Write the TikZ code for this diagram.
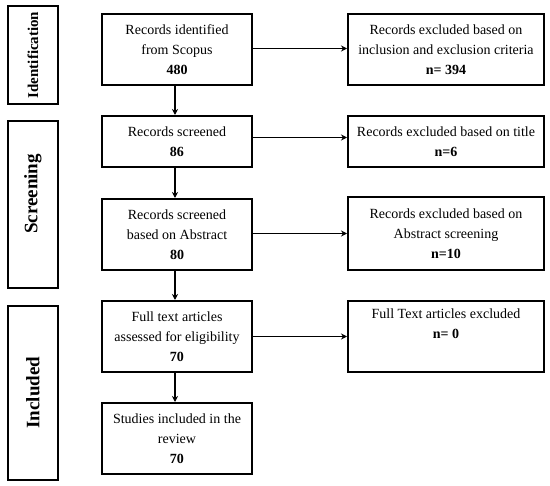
\documentclass[tikz,border=0pt]{standalone}
\usepackage{fontspec}
\setmainfont{Liberation Serif}
\usetikzlibrary{arrows.meta}
\begin{document}
\begin{tikzpicture}[x=1pt,y=-1pt,
  box/.style={draw,line width=2pt,inner sep=0pt,align=center,
    font=\fontsize{14}{20}\selectfont},
  side/.style={draw,line width=2pt,inner sep=0pt,minimum width=50pt},
  sidetext/.style={rotate=90,font=\fontsize{#1}{20}\selectfont\bfseries},
  arr/.style={line width=1.6pt,-{Stealth[length=6pt,width=6pt]}}]
\useasboundingbox (0,0) rectangle (550,486);
% phase boxes
\node[side,minimum height=98pt] (s1) at (33,55) {};
\node[sidetext=15] (t1) at (33,55) {Identification};
\node[side,minimum height=167pt] (s2) at (33,204.5) {};
\node[sidetext=19] (t2) at (33,194) {Screening};
\node[side,minimum height=174pt] (s3) at (33,393) {};
\node[sidetext=19] (t3) at (33,392.5) {Included};
% main column
\node[box,minimum width=150pt,minimum height=71pt] (b1) at (177,49.5)
  {Records identified\\from Scopus\\\textbf{480}};
\node[box,minimum width=150pt,minimum height=51pt] (b2) at (177,141.5)
  {Records screened\\\textbf{86}};
\node[box,minimum width=150pt,minimum height=71pt] (b3) at (177,234.5)
  {Records screened\\based on Abstract\\\textbf{80}};
\node[box,minimum width=150pt,minimum height=71pt] (b4) at (177,336.5)
  {Full text articles\\assessed for eligibility\\\textbf{70}};
\node[box,minimum width=150pt,minimum height=71pt] (b5) at (177,438.5)
  {Studies included in the\\review\\\textbf{70}};
% right column
\node[box,minimum width=196pt,minimum height=71pt] (r1) at (446,49.5)
  {Records excluded based on\\inclusion and exclusion criteria\\\textbf{n= 394}};
\node[box,minimum width=196pt,minimum height=51pt] (r2) at (446,141.5)
  {Records excluded based on title\\\textbf{n=6}};
\node[box,minimum width=196pt,minimum height=73pt] (r3) at (446,234)
  {Records excluded based on\\Abstract screening\\\textbf{n=10}};
\node[box,minimum width=196pt,minimum height=71pt] (r4) at (446,336.5)
  {Full Text articles excluded\\\textbf{n= 0}\\\strut};
% arrows
\draw[arr] ([xshift=-2pt]b1.south) -- ([xshift=-2pt]b2.north);
\draw[arr] ([xshift=-2pt]b2.south) -- ([xshift=-2pt]b3.north);
\draw[arr] ([xshift=-2pt]b3.south) -- ([xshift=-2pt]b4.north);
\draw[arr] ([xshift=-2pt]b4.south) -- ([xshift=-2pt]b5.north);
\draw[arr] ([yshift=1pt]b1.east) -- ([yshift=1pt]b1.east -| r1.west);
\draw[arr] ([yshift=4pt]b2.east) -- ([yshift=4pt]b2.east -| r2.west);
\draw[arr] ([yshift=1pt]b3.east) -- ([yshift=1pt]b3.east -| r3.west);
\draw[arr] (b4.east) -- (b4.east -| r4.west);
\end{tikzpicture}
\end{document}
